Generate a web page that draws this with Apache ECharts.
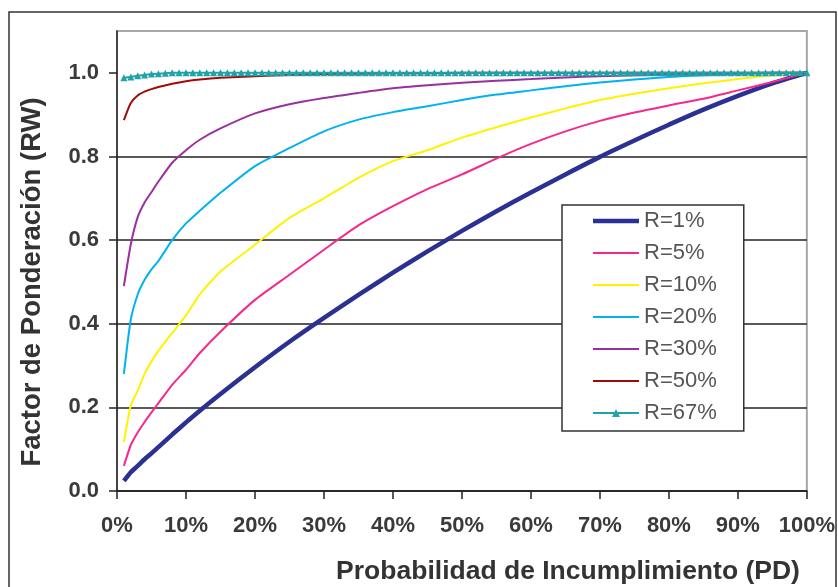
<!DOCTYPE html>
<html>
<head>
<meta charset="utf-8">
<script src="https://cdn.jsdelivr.net/npm/echarts@6/dist/echarts.min.js"></script>
<style>
html,body{margin:0;padding:0;background:#fff;}
#chart{width:838px;height:587px;}
</style>
</head>
<body>
<div id="chart"></div>
<script>
// ---- data (PD in %) ----
const pd = [1,2,3,4,5,6,8,10,12,15,20,25,30,35,40,45,50,55,60,65,70,75,80,85,90,95,100];
const r01 = [0.024,0.045,0.060,0.076,0.090,0.105,0.135,0.164,0.192,0.232,0.296,0.357,0.414,0.469,0.522,0.573,0.622,0.669,0.714,0.757,0.799,0.838,0.876,0.912,0.945,0.975,1.0];
const r05 = [0.060,0.110,0.140,0.165,0.188,0.210,0.254,0.290,0.330,0.381,0.457,0.517,0.577,0.635,0.681,0.722,0.757,0.795,0.830,0.860,0.885,0.905,0.922,0.938,0.958,0.978,1.0];
const r10 = [0.117,0.205,0.240,0.280,0.310,0.335,0.378,0.420,0.470,0.525,0.589,0.653,0.700,0.749,0.789,0.815,0.845,0.870,0.893,0.915,0.935,0.950,0.963,0.975,0.985,0.994,1.0];
const r20 = [0.280,0.410,0.470,0.505,0.530,0.550,0.600,0.640,0.670,0.713,0.777,0.820,0.860,0.888,0.906,0.920,0.935,0.948,0.958,0.968,0.977,0.984,0.990,0.994,0.997,0.999,1.0];
const r30 = [0.490,0.590,0.655,0.690,0.715,0.740,0.785,0.815,0.840,0.867,0.903,0.925,0.940,0.952,0.963,0.970,0.976,0.981,0.985,0.989,0.992,0.994,0.996,0.998,0.999,1.0,1.0];
const r50 = [0.887,0.928,0.946,0.955,0.961,0.966,0.974,0.980,0.984,0.988,0.992,0.995,0.997,0.998,0.999,0.999,1.0,1.0,1.0,1.0,1.0,1.0,1.0,1.0,1.0,1.0,1.0];
const pdTeal = [1,2,3,4,5,6,7,8,9,10,11,12,13,14,15,16,17,18,19,20,21,22,23,24,25,26,27,28,29,30,31,32,33,34,35,36,37,38,39,40,41,42,43,44,45,46,47,48,49,50,51,52,53,54,55,56,57,58,59,60,61,62,63,64,65,66,67,68,69,70,71,72,73,74,75,76,77,78,79,80,81,82,83,84,85,86,87,88,89,90,91,92,93,94,95,96,97,98,99,100];
const r67 = [0.988,0.990,0.993,0.995,0.997,0.998,0.999,1,1,1,1,1,1,1,1,1,1,1,1,1,1,1,1,1,1,1,1,1,1,1,1,1,1,1,1,1,1,1,1,1,1,1,1,1,1,1,1,1,1,1,1,1,1,1,1,1,1,1,1,1,1,1,1,1,1,1,1,1,1,1,1,1,1,1,1,1,1,1,1,1,1,1,1,1,1,1,1,1,1,1,1,1,1,1,1,1,1,1,1,1];
const seriesNames = ['R=1%','R=5%','R=10%','R=20%','R=30%','R=50%','R=67%'];
const yTicks = [0,0.2,0.4,0.6,0.8,1.0];
const xTitle = 'Probabilidad de Incumplimiento (PD)';
const yTitle = 'Factor de Ponderación (RW)';

const FONT = 'Liberation Sans, Arial, sans-serif';
const colors = ['#2B3192','#F5288E','#FFF200','#00B2EE','#9A2F9E','#A00A0A','#1FA3A8'];
const widths = [4.5,2,2,2,2,2,2];
function pairs(xs, ys){ return xs.map((x,i)=>[x, ys[i]]); }
function lineSeries(i, xs, ys){
  return {name:seriesNames[i], type:'line', data: pairs(xs, ys), symbol:'none', smooth:0.2,
    lineStyle:{color:colors[i], width:widths[i]}, itemStyle:{color:colors[i]}, emphasis:{disabled:true}};
}
const legendData = seriesNames.map((n,i)=> i===6 ? {name:n} :
  {name:n, icon:'path://M0,0H46V' + widths[i] + 'H0Z'});

const chart = echarts.init(document.getElementById('chart'), null, {renderer:'canvas'});
chart.setOption({
  animation:false,
  backgroundColor:'#fff',
  grid:{left:117, right:30, top:31, bottom:96, show:true, borderColor:'#a8a8a8', borderWidth:2, backgroundColor:'transparent'},
  xAxis:{type:'value', min:0, max:100, interval:10,
    axisLine:{show:true, lineStyle:{color:'#222', width:1.5}},
    axisTick:{show:true, length:8, lineStyle:{color:'#222', width:1.5}},
    axisLabel:{formatter:'{value}%', fontSize:22, fontWeight:'bold', margin:24, color:'#3a3a3a', fontFamily:FONT},
    splitLine:{show:false}},
  yAxis:{type:'value', min:0, max:1.1, interval:0.2,
    axisLine:{show:true, lineStyle:{color:'#222', width:1.5}},
    axisTick:{show:true, length:8, lineStyle:{color:'#222', width:1.5}, customValues:yTicks},
    axisLabel:{customValues:yTicks, formatter:v=> v>1.05 ? '' : v.toFixed(1), fontSize:22, fontWeight:'bold', margin:18, color:'#3a3a3a', fontFamily:FONT},
    splitLine:{show:true, showMaxLine:false, lineStyle:{color:'#222', width:1.5}}},
  legend:{orient:'vertical', left:562, top:205, padding:[5,27,7,30], itemGap:10, itemWidth:46, itemHeight:10,
    borderColor:'#333', borderWidth:1.5, backgroundColor:'#fff',
    textStyle:{fontSize:22, color:'#555', fontFamily:FONT, lineHeight:22},
    data: legendData},
  series:[
    lineSeries(0, pd, r01),
    lineSeries(1, pd, r05),
    lineSeries(2, pd, r10),
    lineSeries(3, pd, r20),
    lineSeries(4, pd, r30),
    lineSeries(5, pd, r50),
    {name:seriesNames[6], type:'line', data:pairs(pdTeal, r67), symbol:'triangle', symbolSize:7, showSymbol:true,
      lineStyle:{color:colors[6], width:2}, itemStyle:{color:colors[6]}, emphasis:{disabled:true}}
  ],
  graphic:[
    {type:'rect', z:100, silent:true, shape:{x:9, y:12, width:827, height:600}, style:{fill:null, stroke:'#333', lineWidth:1.5}},
    {type:'text', x:568, y:572, style:{text:xTitle, font:'bold 26.5px '+FONT, fill:'#333', textAlign:'center', textVerticalAlign:'middle'}},
    {type:'text', x:32, y:282, rotation:Math.PI/2, style:{text:yTitle, font:'bold 27.5px '+FONT, fill:'#333', textAlign:'center', textVerticalAlign:'middle'}}
  ]
});
</script>
</body>
</html>
